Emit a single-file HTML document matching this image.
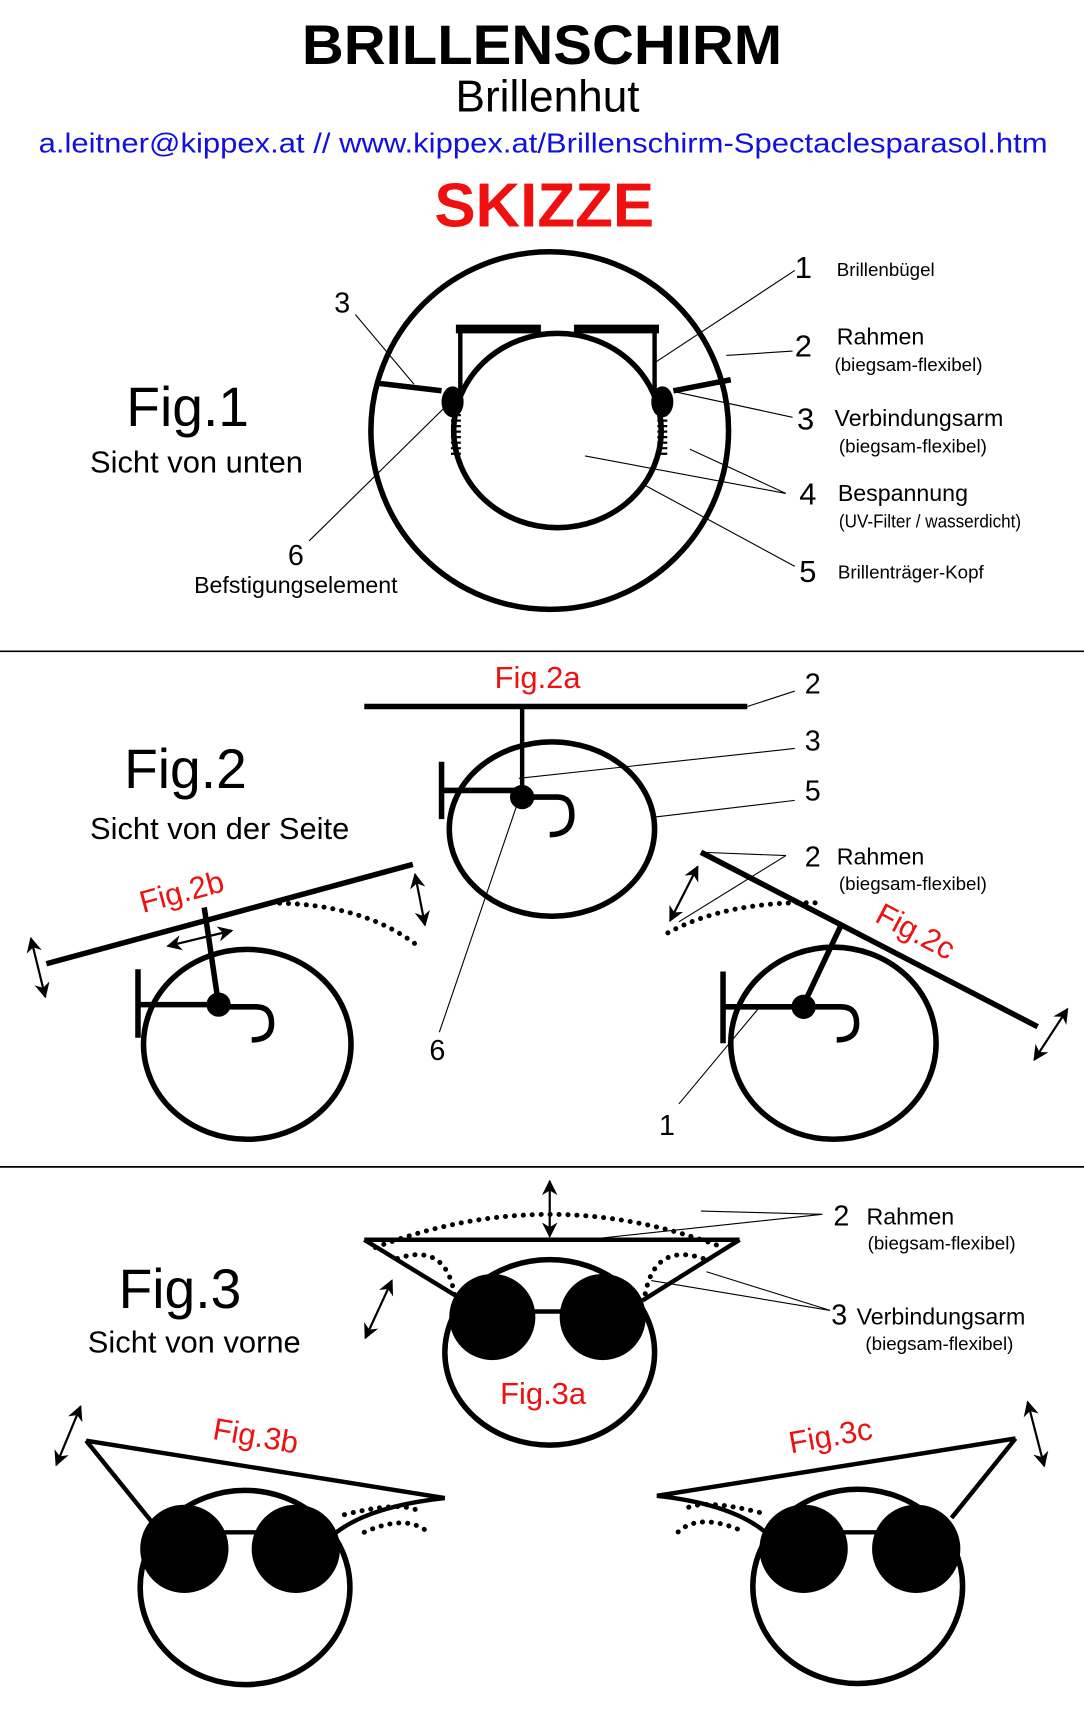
<!DOCTYPE html>
<html><head><meta charset="utf-8"><style>html,body{margin:0;padding:0;background:#fff}svg{display:block}text{font-family:"Liberation Sans",sans-serif}</style></head><body>
<svg width="1084" height="1731" viewBox="0 0 982 1568" preserveAspectRatio="none" xmlns="http://www.w3.org/2000/svg">
<defs>
<marker id="e" viewBox="0 0 10 10" refX="9" refY="5" markerWidth="7" markerHeight="7" orient="auto" markerUnits="strokeWidth"><path d="M0,0 L10,5 L0,10 L3,5z" fill="#000"/></marker>
<marker id="s" viewBox="0 0 10 10" refX="1" refY="5" markerWidth="7" markerHeight="7" orient="auto" markerUnits="strokeWidth"><path d="M10,0 L0,5 L10,10 L7,5z" fill="#000"/></marker>
</defs>
<g text-anchor="middle">
<text x="491" y="58" font-size="50" font-weight="bold" textLength="435" lengthAdjust="spacingAndGlyphs">BRILLENSCHIRM</text>
<text x="496" y="101" font-size="40">Brillenhut</text>
<text x="492" y="138" font-size="25" fill="#1010e0" textLength="914" lengthAdjust="spacingAndGlyphs">a.leitner@kippex.at  //  www.kippex.at/Brillenschirm-Spectaclesparasol.htm</text>
<text x="493" y="205" font-size="56" font-weight="bold" fill="#f01010">SKIZZE</text>
</g>
<g fill="none" stroke="#000">
<circle cx="498" cy="390" r="162" stroke-width="5"/>
<ellipse cx="505" cy="390" rx="94" ry="88" stroke-width="5"/>
<path d="M413 298 H490 M520 298 H597" stroke-width="8"/>
<path d="M488 296 V302 H522 V296" stroke-width="3"/>
<path d="M417 298 V355 M593 298 V355" stroke-width="4"/>
<path d="M400 354 L341 347 M610 354 L662 344" stroke-width="5"/>
<path d="M413 375 V412 M600 375 V412" stroke-width="9" stroke-dasharray="2 3"/>
<g stroke-width="1">
<path d="M322 285 L375 348 M280 490 L406 366 M720 245 L594 328 M718 318 L658 322 M718 378 L612 355 M712 447 L530 413 M712 447 L625 407 M720 513 L585 440"/>
</g>
<line x1="0" y1="590" x2="982" y2="590" stroke-width="1.5"/>
<line x1="0" y1="1057" x2="982" y2="1057" stroke-width="1.5"/>
<path d="M330 640 H677" stroke-width="5"/>
<path d="M473 640 V722" stroke-width="4"/>
<ellipse cx="500" cy="751" rx="93" ry="79" stroke-width="5"/>
<path d="M400 690 V742 M400 716 H473 M473 722 H505 Q518 722 518 738 Q518 756 498 756" stroke-width="5"/>
<path d="M677 640 L720 626 M720 678 L470 705 M720 725 L594 740 M398 935 L468 730" stroke-width="1"/>
<path d="M42 873 L374 783" stroke-width="5"/>
<path d="M185 822 L198 910" stroke-width="5"/>
<ellipse cx="224" cy="946" rx="94" ry="86" stroke-width="5"/>
<path d="M125 878 V940 M125 910 H198 M198 912 H232 Q246 912 246 927 Q246 942 228 942" stroke-width="5"/>
<g stroke-width="4.5" stroke-dasharray="0.1 8" stroke-linecap="round">
<path d="M245 818 Q330 818 380 858"/>
<path d="M605 845 Q660 815 745 818"/>
<path d="M340 1130 Q498 1070 655 1130"/>
<path d="M360 1140 Q405 1125 412 1175 M637 1140 Q592 1125 584 1175"/>
<path d="M312 1372 Q360 1360 378 1368 M330 1388 Q370 1370 390 1390"/>
<path d="M688 1370 Q640 1358 622 1366 M668 1385 Q630 1370 612 1390"/>
</g>
<g stroke-width="2" marker-start="url(#s)" marker-end="url(#e)">
<path d="M28 850 L41 903"/><path d="M376 792 L385 838"/><path d="M152 857 L210 843"/>
<path d="M607 834 L632 785"/><path d="M937 960 L967 914"/>
<path d="M498 1070 V1120"/><path d="M331 1212 L355 1160"/>
<path d="M51 1327 L73 1274"/><path d="M931 1270 L946 1328"/>
</g>
<path d="M635 772 L940 930" stroke-width="5"/>
<path d="M762 838 L728 910" stroke-width="5"/>
<ellipse cx="755" cy="945" rx="93" ry="87" stroke-width="5"/>
<path d="M655 880 V945 M655 912 H728 M728 912 H762 Q776 912 776 927 Q776 942 758 942" stroke-width="5"/>
<path d="M712 775 L635 772 M712 775 L615 835 M615 1000 L690 910" stroke-width="1"/>
<path d="M330 1123 H670 M330 1123 L415 1175 M670 1123 L582 1178" stroke-width="4"/>
<ellipse cx="498" cy="1225" rx="95" ry="84" stroke-width="5"/>
<path d="M745 1100 L635 1097 M745 1100 L540 1122 M752 1187 L640 1152 M752 1187 L590 1160" stroke-width="1"/>
<path d="M78 1305 L403 1357 M78 1305 L137 1378 M300 1392 Q330 1365 403 1357" stroke-width="4"/>
<ellipse cx="222" cy="1438" rx="95" ry="88" stroke-width="5"/>
<path d="M920 1303 L595 1355 M920 1303 L862 1375 M698 1392 Q668 1363 595 1355" stroke-width="4"/>
<ellipse cx="777" cy="1437" rx="95" ry="88" stroke-width="5"/>
</g>
<g fill="#000">
<ellipse cx="410" cy="364" rx="10" ry="14"/><ellipse cx="600" cy="364" rx="10" ry="14"/>
<circle cx="473" cy="722" r="11"/><circle cx="198" cy="910" r="11"/><circle cx="728" cy="912" r="11"/>
<circle cx="446" cy="1193" r="39"/><circle cx="546" cy="1193" r="39"/>
<circle cx="167" cy="1403" r="40"/><circle cx="268" cy="1403" r="40"/>
<circle cx="728" cy="1403" r="40"/><circle cx="830" cy="1403" r="40"/>
</g>
<path d="M480 1188 H512 M200 1388 H236 M762 1388 H796" stroke="#000" stroke-width="4"/>
<g font-size="28" text-anchor="middle">
<text x="170" y="386" font-size="50">Fig.1</text>
<text x="178" y="428">Sicht von unten</text>
<text x="168" y="714" font-size="50">Fig.2</text>
<text x="199" y="760">Sicht von der Seite</text>
<text x="163" y="1185" font-size="50">Fig.3</text>
<text x="176" y="1225">Sicht von vorne</text>
<text x="268" y="512" font-size="26">6</text>
<text x="268" y="537" font-size="21">Befstigungselement</text>
<text x="310" y="283" font-size="26">3</text>
</g>
<g font-size="28">
<text x="720" y="252">1</text><text x="720" y="323">2</text><text x="722" y="389">3</text><text x="724" y="457">4</text><text x="724" y="527">5</text>
<text x="729" y="628" font-size="26">2</text><text x="729" y="680" font-size="26">3</text><text x="729" y="725" font-size="26">5</text>
<text x="729" y="785" font-size="26">2</text><text x="389" y="960" font-size="26">6</text><text x="597" y="1028" font-size="26">1</text>
<text x="755" y="1110" font-size="26">2</text><text x="753" y="1200" font-size="26">3</text>
</g>
<g font-size="21">
<text x="758" y="250" font-size="17">Brillenbügel</text>
<text x="758" y="312">Rahmen</text><text x="756" y="336" font-size="17">(biegsam-flexibel)</text>
<text x="756" y="386">Verbindungsarm</text><text x="760" y="410" font-size="17">(biegsam-flexibel)</text>
<text x="759" y="454">Bespannung</text><text x="760" y="478" font-size="17" textLength="165" lengthAdjust="spacingAndGlyphs">(UV-Filter / wasserdicht)</text>
<text x="759" y="524" font-size="17">Brillenträger-Kopf</text>
<text x="758" y="783">Rahmen</text><text x="760" y="806" font-size="17">(biegsam-flexibel)</text>
<text x="785" y="1109">Rahmen</text><text x="786" y="1132" font-size="17">(biegsam-flexibel)</text>
<text x="776" y="1200">Verbindungsarm</text><text x="784" y="1223" font-size="17">(biegsam-flexibel)</text>
</g>
<g font-size="28" fill="#f01010" text-anchor="middle">
<text x="487" y="623">Fig.2a</text>
<text transform="translate(167,817) rotate(-15)">Fig.2b</text>
<text transform="translate(825,852) rotate(28)">Fig.2c</text>
<text x="492" y="1272">Fig.3a</text>
<text transform="translate(230,1310) rotate(10)">Fig.3b</text>
<text transform="translate(754,1310) rotate(-10)">Fig.3c</text>
</g>
</svg>
</body></html>
